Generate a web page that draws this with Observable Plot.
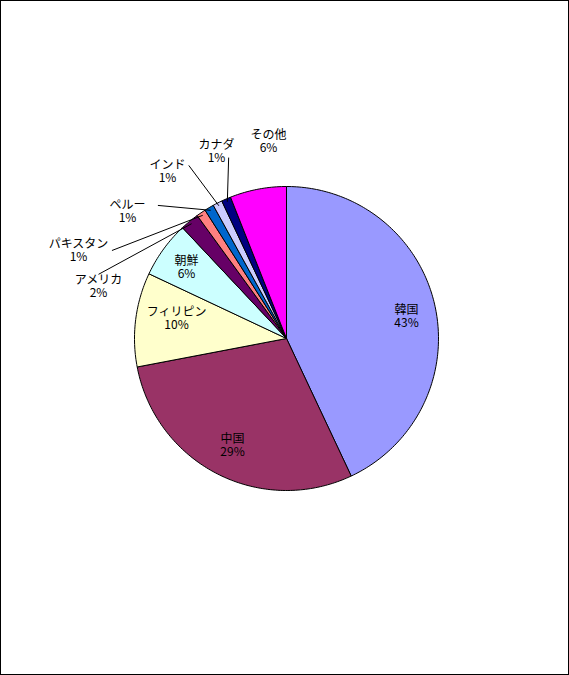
<!DOCTYPE html>
<html><head><meta charset="utf-8">
<script src="https://cdn.jsdelivr.net/npm/d3@7"></script>
<script src="https://cdn.jsdelivr.net/npm/@observablehq/plot@0.6"></script>
<style>
body{margin:0;background:#fff}
#chart{width:567px;height:673px;border:1px solid #000;overflow:hidden}
</style></head>
<body><div id="chart"></div>
<script>
const names = ['韓国','中国','フィリピン','朝鮮','アメリカ','パキスタン','ペルー','インド','カナダ','その他']
const shares = [43,29,10,6,2,1,1,1,1,6]
const colors = ['#9999FF','#993366','#FFFFCC','#CCFFFF','#660066','#FF8080','#0066CC','#CCCCFF','#000080','#FF00FF']

// label anchor points in pixels of the picture, converted to pie units below
const labelPx = [[406,316],[232,445],[176,318],[186,267],[98,286],[78,250],[127,211],[167,171],[216,151],[268,141]]
const cx = 286, cy = 338, R = 152
const toU = ([px,py]) => [(px-cx)/R, (cy-py)/R]

const arcs = d3.pie().sort(null).value(d => d)(shares)
const pts = []
arcs.forEach((a, i) => {
  pts.push({name: names[i], x: 0, y: 0})
  const n = Math.max(4, Math.ceil((a.endAngle - a.startAngle) * 60))
  for (let k = 0; k <= n; k++) {
    const t = a.startAngle + (a.endAngle - a.startAngle) * k / n
    pts.push({name: names[i], x: Math.sin(t), y: Math.cos(t)})
  }
  pts.push({name: names[i], x: 0, y: 0})
})

const labels = names.map((n, i) => {
  const [x, y] = toU(labelPx[i])
  return {name: n, text: n + '\n' + shares[i] + '%', x, y}
})
// leader lines for small outside slices
const leaders = [4,5,6,7,8].map(i => {
  const a = arcs[i], m = (a.startAngle + a.endAngle) / 2
  const [lx, ly] = toU(labelPx[i])
  const off = {4:[0.0,0.08],5:[0.22,0.0],6:[0.2,0.04],7:[0.14,0.04],8:[0.08,-0.04]}[i]
  return {x1: lx + off[0], y1: ly + off[1], x2: Math.sin(m) * 0.98, y2: Math.cos(m) * 0.98}
})

const chart = Plot.plot({
  width: 567, height: 673,
  marginLeft: 133, marginRight: 130, marginTop: 185, marginBottom: 184,
  x: {domain: [-1, 1], axis: null},
  y: {domain: [-1, 1], axis: null},
  color: {domain: names, range: colors},
  style: {fontFamily: '"Noto Sans CJK JP", sans-serif', background: '#fff'},
  marks: [
    Plot.line(pts, {x: 'x', y: 'y', z: 'name', fill: 'name', stroke: '#000', strokeWidth: 1, curve: 'linear-closed'}),
    Plot.link(leaders, {x1: 'x1', y1: 'y1', x2: 'x2', y2: 'y2', stroke: '#000', strokeWidth: 1}),
    Plot.text(labels, {x: 'x', y: 'y', text: 'text', fontSize: 12, fill: '#000', lineHeight: 1.1})
  ]
})
d3.select('#chart').append(() => chart)
</script></body></html>
